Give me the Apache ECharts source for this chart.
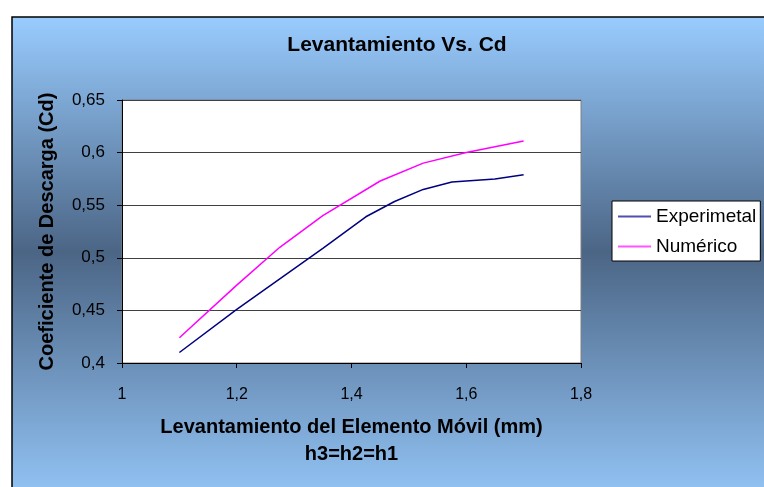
<!doctype html>
<html>
<head>
<meta charset="utf-8"/>
<title>Levantamiento Vs. Cd</title>
<script src="https://cdn.jsdelivr.net/npm/echarts@6/dist/echarts.min.js"></script>
<style>
  body { margin: 0; background: #fff; }
  #chart { width: 764px; height: 487px; }
</style>
</head>
<body>
<div id="chart"></div>
<script>
// datos
const xExperimental = [1.1, 1.2, 1.275, 1.35, 1.425, 1.475, 1.525, 1.575, 1.65, 1.7];
const yExperimental = [0.410, 0.451, 0.480, 0.509, 0.539, 0.5535, 0.565, 0.572, 0.575, 0.579];
const xNumerico = [1.1, 1.2, 1.275, 1.35, 1.45, 1.525, 1.6, 1.7];
const yNumerico = [0.424, 0.474, 0.510, 0.540, 0.573, 0.590, 0.600, 0.611];
const seriesNames = ['Experimetal', 'Numérico'];

const pairs = (xs, ys) => xs.map((x, i) => [x, ys[i]]);
const coma = (v) => String(Math.round(v * 100) / 100).replace('.', ',');
const FONT = 'Liberation Sans';

const chart = echarts.init(document.getElementById('chart'));
chart.setOption({
    animation: false,
    textStyle: { fontFamily: FONT },
    graphic: [{
        type: 'rect',
        z: -10,
        silent: true,
        shape: { x: 12, y: 17, width: 800, height: 500 },
        style: {
            fill: new echarts.graphic.LinearGradient(0, 0, 0, 1, [
                { offset: 0, color: '#99ccff' },
                { offset: 0.47, color: '#4b6585' },
                { offset: 1, color: '#99ccff' }
            ]),
            stroke: '#000',
            lineWidth: 1.5
        }
    }],
    title: {
        text: 'Levantamiento Vs. Cd',
        left: 392,
        top: 30,
        textAlign: 'center',
        textStyle: { fontFamily: FONT, fontSize: 21, fontWeight: 'bold', color: '#000' }
    },
    legend: {
        orient: 'vertical',
        left: 612,
        top: 201,
        backgroundColor: '#fff',
        borderColor: '#000',
        borderWidth: 1,
        borderRadius: 0,
        padding: [6, 4, 5, 6],
        itemGap: 11,
        itemWidth: 33,
        itemHeight: 2,
        icon: 'rect',
        textStyle: { fontFamily: FONT, fontSize: 19, color: '#000' },
        data: [
            { name: seriesNames[0], itemStyle: { color: '#5050b0' } },
            { name: seriesNames[1], itemStyle: { color: '#ff55ff' } }
        ]
    },
    grid: {
        left: 122, top: 100, right: 183, bottom: 124,
        show: true,
        backgroundColor: '#fff',
        borderColor: '#808080',
        borderWidth: 1
    },
    xAxis: {
        type: 'value',
        min: 1, max: 1.8, interval: 0.2,
        name: 'Levantamiento del Elemento Móvil (mm)\nh3=h2=h1',
        nameLocation: 'middle',
        nameGap: 51,
        nameTextStyle: { fontFamily: FONT, fontSize: 20, fontWeight: 'bold', color: '#000', lineHeight: 27 },
        axisLine: { lineStyle: { color: '#000', width: 1 } },
        axisTick: { show: true, length: 5, lineStyle: { color: '#000' } },
        axisLabel: { formatter: coma, fontSize: 16, color: '#000', margin: 24 },
        splitLine: { show: false }
    },
    yAxis: {
        type: 'value',
        min: 0.4, max: 0.65, interval: 0.05,
        name: 'Coeficiente de Descarga (Cd)',
        nameLocation: 'middle',
        nameGap: 65,
        nameTextStyle: { fontFamily: FONT, fontSize: 20, fontWeight: 'bold', color: '#000' },
        axisLine: { show: true, lineStyle: { color: '#000', width: 1 } },
        axisTick: { show: true, length: 5, lineStyle: { color: '#000' } },
        axisLabel: { formatter: coma, fontSize: 17, color: '#000', margin: 17 },
        splitLine: { lineStyle: { color: '#404040', width: 1 } }
    },
    series: [
        {
            name: seriesNames[0],
            type: 'line',
            data: pairs(xExperimental, yExperimental),
            showSymbol: false,
            symbol: 'none',
            lineStyle: { color: '#000080', width: 1.5 },
            itemStyle: { color: '#000080' }
        },
        {
            name: seriesNames[1],
            type: 'line',
            data: pairs(xNumerico, yNumerico),
            showSymbol: false,
            symbol: 'none',
            lineStyle: { color: '#ff00ff', width: 1.5 },
            itemStyle: { color: '#ff00ff' }
        }
    ]
});
</script>
</body>
</html>
